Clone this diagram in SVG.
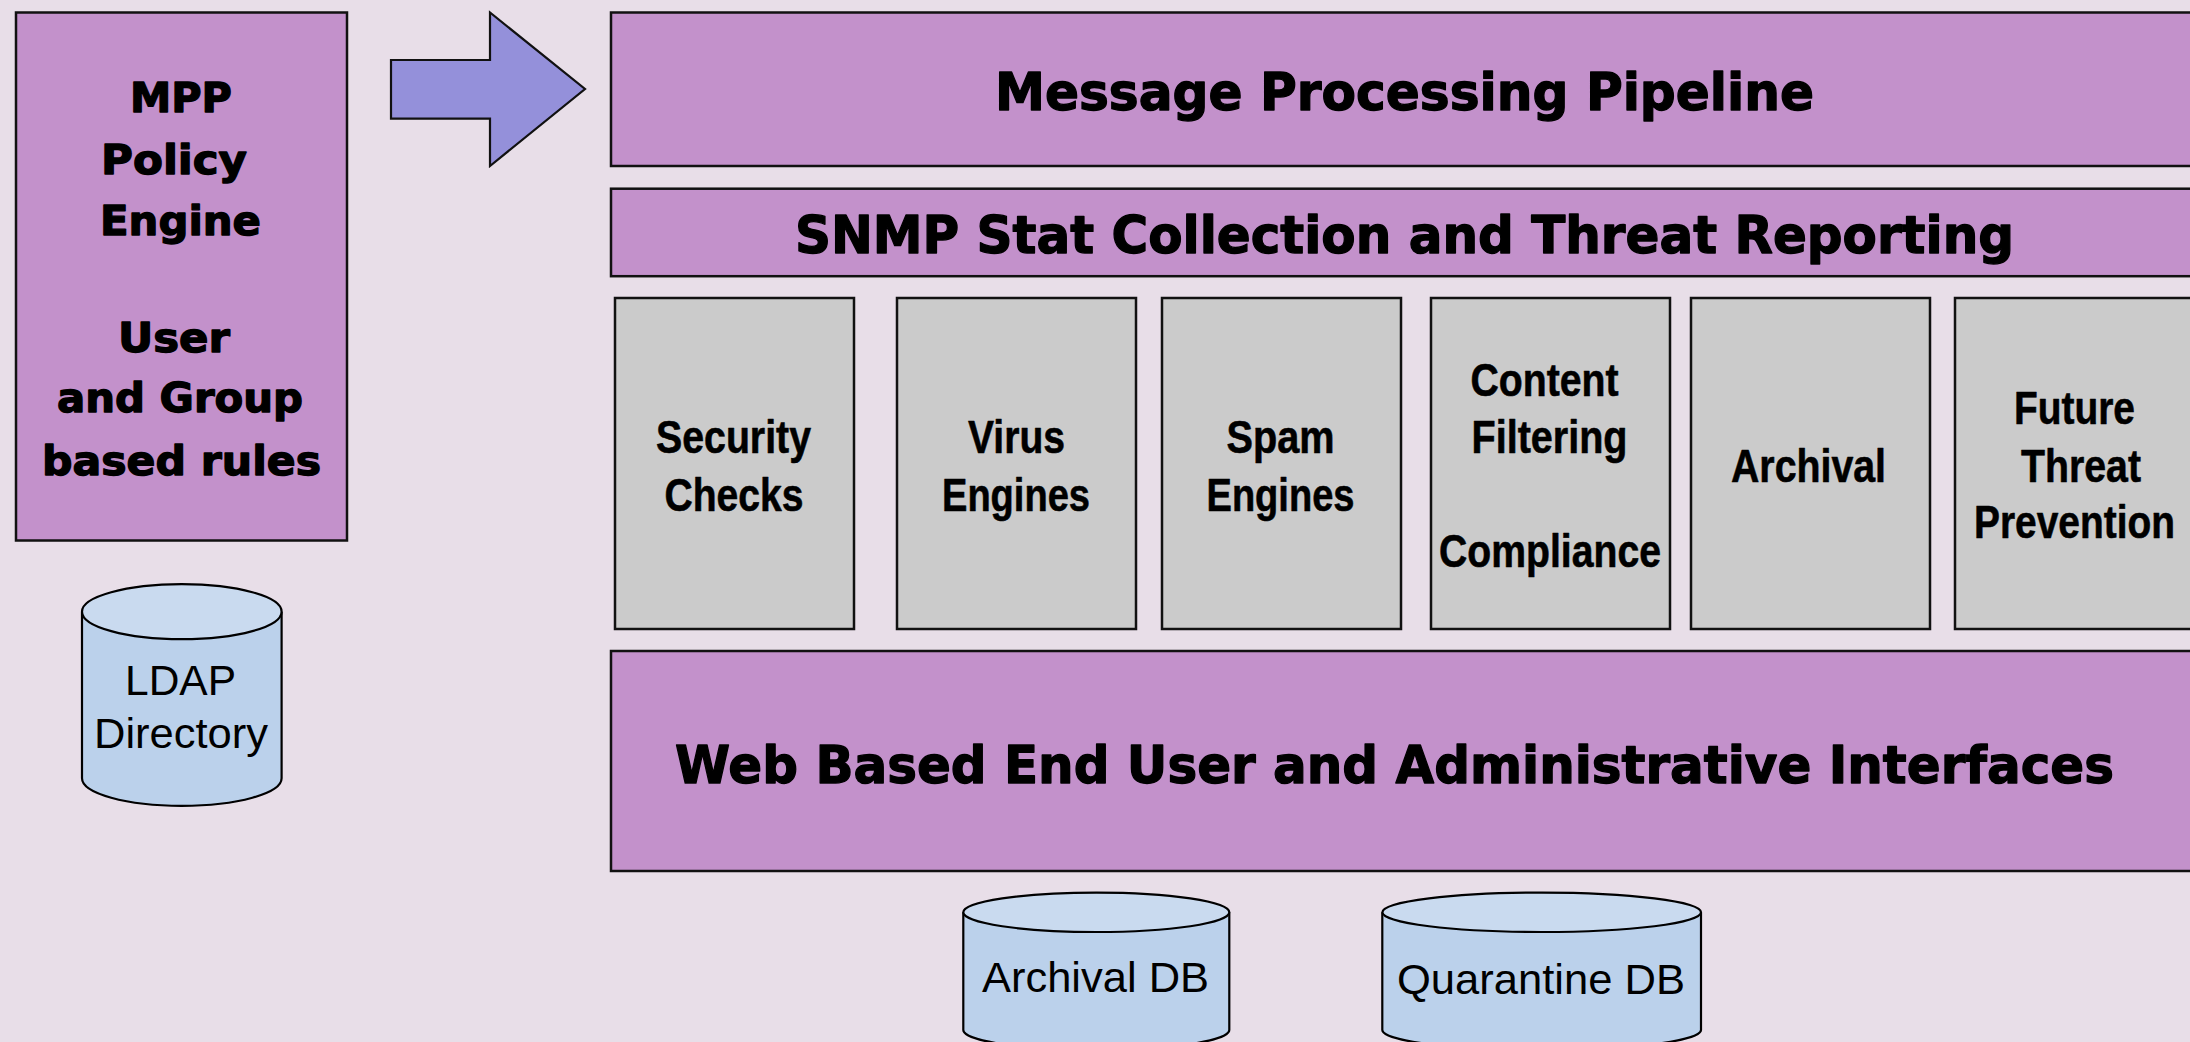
<svg xmlns="http://www.w3.org/2000/svg" width="2190" height="1042" viewBox="0 0 2190 1042">
<style>
.bg{fill:#E8DEE8}
.pur{fill:#C391CB;stroke:#111;stroke-width:2.5}
.gray{fill:#CBCBCB;stroke:#111;stroke-width:2.5}
.cylb{fill:#BBD1EB;stroke:#000;stroke-width:2.2}
.cylt{fill:#C9DAEF;stroke:#000;stroke-width:2.2}
.hv{font-family:"DejaVu Sans","Liberation Sans",sans-serif;font-weight:bold;fill:#000;stroke:#000;stroke-width:1.3;stroke-linejoin:round}
.cn{font-family:"Liberation Sans Narrow","Liberation Sans",Arial,sans-serif;font-weight:bold;font-size:47px;fill:#000;stroke:#000;stroke-width:0.6;stroke-linejoin:round}
.rg{font-family:"Liberation Sans",Arial,sans-serif;font-size:43px;fill:#000}
</style>
<rect class="bg" x="0" y="0" width="2190" height="1042"/>

<g id="policy-engine">
<rect class="pur" x="16" y="12.5" width="331" height="528"/>
<text class="hv" font-size="40" x="130" y="111.7" textLength="102" lengthAdjust="spacingAndGlyphs">MPP</text>
<text class="hv" font-size="40" x="101" y="174" textLength="146" lengthAdjust="spacingAndGlyphs">Policy</text>
<text class="hv" font-size="40" x="100" y="235" textLength="161" lengthAdjust="spacingAndGlyphs">Engine</text>
<text class="hv" font-size="40" x="118" y="352.3" textLength="112" lengthAdjust="spacingAndGlyphs">User</text>
<text class="hv" font-size="40" x="57" y="412.3" textLength="246" lengthAdjust="spacingAndGlyphs">and Group</text>
<text class="hv" font-size="40" x="42" y="475" textLength="279" lengthAdjust="spacingAndGlyphs">based rules</text>
</g>

<g id="ldap-directory">
<path class="cylb" d="M82,611.7 V778.3 A99.8,27.5 0 0 0 281.6,778.3 V611.7"/>
<ellipse class="cylt" cx="181.8" cy="611.7" rx="99.8" ry="27.5"/>
<text class="rg" x="125" y="695" textLength="111" lengthAdjust="spacingAndGlyphs">LDAP</text>
<text class="rg" x="94" y="748.3" textLength="174" lengthAdjust="spacingAndGlyphs">Directory</text>
</g>

<g id="connectors">
<polygon points="391,60 490,60 490,12.5 585,89 490,166 490,118.6 391,118.6" fill="#9490DA" stroke="#111" stroke-width="2.2" stroke-linejoin="miter"/>
</g>

<g id="message-processing-pipeline">
<rect class="pur" x="611" y="12.5" width="1600" height="153.5"/>
<text class="hv" font-size="51" x="995" y="110" textLength="819" lengthAdjust="spacingAndGlyphs">Message Processing Pipeline</text>
</g>

<g id="snmp-stat-collection">
<rect class="pur" x="611" y="188.7" width="1600" height="87.5"/>
<text class="hv" font-size="51" x="795" y="253.3" textLength="1219" lengthAdjust="spacingAndGlyphs">SNMP Stat Collection and Threat Reporting</text>
</g>

<g id="security-checks">
<rect class="gray" x="615" y="298" width="239" height="331"/>
<text class="cn" x="656" y="453.3" textLength="155" lengthAdjust="spacingAndGlyphs">Security</text>
<text class="cn" x="664.5" y="510.7" textLength="139" lengthAdjust="spacingAndGlyphs">Checks</text>
</g>

<g id="virus-engines">
<rect class="gray" x="897" y="298" width="239" height="331"/>
<text class="cn" x="968" y="453.3" textLength="97" lengthAdjust="spacingAndGlyphs">Virus</text>
<text class="cn" x="942" y="510.7" textLength="148" lengthAdjust="spacingAndGlyphs">Engines</text>
</g>

<g id="spam-engines">
<rect class="gray" x="1162" y="298" width="239" height="331"/>
<text class="cn" x="1226.5" y="453.3" textLength="108" lengthAdjust="spacingAndGlyphs">Spam</text>
<text class="cn" x="1206.5" y="510.7" textLength="148" lengthAdjust="spacingAndGlyphs">Engines</text>
</g>

<g id="content-filtering">
<rect class="gray" x="1431" y="298" width="239" height="331"/>
<text class="cn" x="1470.5" y="396" textLength="148" lengthAdjust="spacingAndGlyphs">Content</text>
<text class="cn" x="1471.5" y="453.3" textLength="156" lengthAdjust="spacingAndGlyphs">Filtering</text>
<text class="cn" x="1439" y="567.3" textLength="222" lengthAdjust="spacingAndGlyphs">Compliance</text>
</g>

<g id="archival">
<rect class="gray" x="1691" y="298" width="239" height="331"/>
<text class="cn" x="1731" y="481.7" textLength="155" lengthAdjust="spacingAndGlyphs">Archival</text>
</g>

<g id="future-threat-prevention">
<rect class="gray" x="1955" y="298" width="239" height="331"/>
<text class="cn" x="2014" y="424" textLength="121" lengthAdjust="spacingAndGlyphs">Future</text>
<text class="cn" x="2021" y="481.7" textLength="120" lengthAdjust="spacingAndGlyphs">Threat</text>
<text class="cn" x="1974" y="538.3" textLength="201" lengthAdjust="spacingAndGlyphs">Prevention</text>
</g>

<g id="web-interfaces">
<rect class="pur" x="611" y="651" width="1600" height="220"/>
<text class="hv" font-size="52" x="675" y="782.7" textLength="1439" lengthAdjust="spacingAndGlyphs">Web Based End User and Administrative Interfaces</text>
</g>

<g id="archival-db">
<path class="cylb" d="M963.3,912.3 V1030 A133,20 0 0 0 1229.3,1030 V912.3"/>
<ellipse class="cylt" cx="1096.3" cy="912.3" rx="133" ry="19.7"/>
<text class="rg" x="982" y="992" textLength="227" lengthAdjust="spacingAndGlyphs">Archival DB</text>
</g>

<g id="quarantine-db">
<path class="cylb" d="M1382.3,912.3 V1030 A159.3,20 0 0 0 1701,1030 V912.3"/>
<ellipse class="cylt" cx="1541.7" cy="912.3" rx="159.3" ry="19.7"/>
<text class="rg" x="1397" y="994" textLength="288" lengthAdjust="spacingAndGlyphs">Quarantine DB</text>
</g>
</svg>
